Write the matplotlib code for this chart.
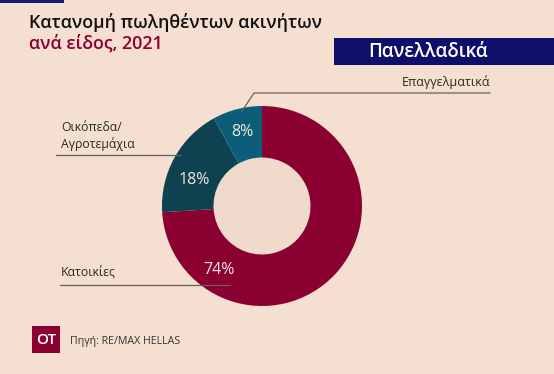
import matplotlib.pyplot as plt
from matplotlib.patches import Rectangle, Circle

# data
categories = ["Κατοικίες", "Οικόπεδα/\nΑγροτεμάχια", "Επαγγελματικά"]
shares = [74, 18, 8]
colors = ["#8a0030", "#0f4250", "#0b5d7a"]

W, H = 554, 374
BG = "#f4dfd0"

fig = plt.figure(figsize=(W / 100, H / 100), dpi=100, facecolor=BG)
ax = fig.add_axes([0, 0, 1, 1])
ax.set_facecolor(BG)

font = "Open Sans"


def Y(y):
    # pixel row from top -> data y
    return H - y


# donut
cx, cy, r_out, r_in = 262, Y(206), 100, 48.5
ax.pie(shares, colors=colors, startangle=90, counterclock=False,
       center=(cx, cy), radius=r_out, frame=True,
       wedgeprops=dict(width=r_out - r_in, linewidth=0))
ax.add_patch(Circle((cx, cy), r_in, facecolor="#f0dacb", edgecolor="none", zorder=0))
ax.set_xlim(0, W)
ax.set_ylim(0, H)
ax.set_aspect("auto")
ax.axis("off")

# percent labels
pct_pos = [(219, 270), (194, 180), (242, 132)]
for (x, y), v in zip(pct_pos, shares):
    ax.text(x, Y(y), f"{v}%", color="#f5e6dc", fontsize=11.5, family=font,
            ha="center", va="center")

# category labels with leader lines
line_kw = dict(color="#6b5f59", linewidth=0.9, zorder=3)
ax.plot([60, 230], [Y(285), Y(285)], **line_kw)
ax.text(61, Y(273), categories[0], fontsize=8.8, family=font, color="#2a2a2a", va="center")

ax.plot([56, 180], [Y(155), Y(155)], **line_kw)
ax.text(61, Y(136), categories[1], fontsize=8.8, family=font, color="#2a2a2a",
        va="center", linespacing=1.25)

ax.plot([242, 254, 490], [Y(111), Y(93), Y(93)], **line_kw)
ax.text(490, Y(82), categories[2], fontsize=9, family=font, color="#2a2a2a",
        va="center", ha="right")

# header
ax.add_patch(Rectangle((0, Y(3)), 64, 3, facecolor="#1a1a6e", edgecolor="none"))
ax.text(29, Y(22), "Κατανομή πωληθέντων ακινήτων", fontsize=12.9, family=font,
        color="#111111", va="center", fontweight="semibold")
ax.text(29, Y(44), "ανά είδος, 2021", fontsize=12.9, family=font,
        color="#8a0030", va="center", fontweight="semibold")

ax.add_patch(Rectangle((334, Y(65)), 220, 27, facecolor="#0e0e6b", edgecolor="none"))
ax.text(428, Y(51.5), "Πανελλαδικά", fontsize=13.5, family=font, color="white",
        va="center", ha="center", fontweight="semibold")

# footer
ax.add_patch(Rectangle((32, Y(353)), 28, 27, facecolor="#8a0030", edgecolor="none"))
ax.text(46, Y(340), "OT", fontsize=11, family=font, color="white",
        va="center", ha="center", fontweight="semibold")
ax.text(70, Y(341), "Πηγή: RE/MAX HELLAS", fontsize=7.7, family=font,
        color="#333333", va="center")

fig.savefig("out.png", dpi=100, facecolor=BG)
